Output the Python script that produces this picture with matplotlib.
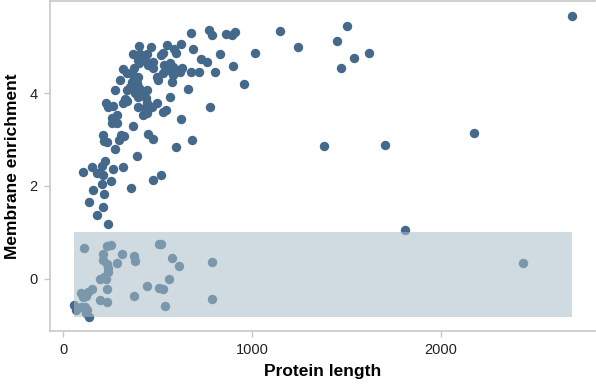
import matplotlib
matplotlib.use("Agg")
import matplotlib.pyplot as plt
import matplotlib.patches as patches

plt.rcParams['font.family'] = ['Liberation Sans', 'DejaVu Sans']

# protein length vs membrane enrichment
length = [
    677, 772, 788, 862, 894, 910, 1148, 1243, 1016, 831, 730, 762, 899, 804, 677, 720,
    958, 661, 778, 624, 683, 598, 519, 476, 688, 624, 550, 587, 598, 529, 519,
    1503, 1450, 1540, 1619, 1471, 1381, 1704, 2175, 2693, 1810,
    402, 466, 370, 407, 444, 397, 434, 476, 402, 450, 476, 534, 566, 582, 550, 603,
    630, 529, 497, 582, 619, 503, 577, 317, 339, 376, 370, 397, 365, 392, 354, 402,
    339, 381, 418, 397, 439, 444, 302, 275, 566, 529, 497, 471, 423, 444, 434, 397,
    328, 339, 228, 238, 265, 317, 333, 259, 286, 259, 286, 370, 212, 217, 233, 296,
    323, 307, 444, 545, 450, 476, 275, 392, 222, 106, 153, 180, 212, 206, 265, 317,
    254, 206, 360, 159, 217, 138, 212, 180, 238,
    111, 233, 254, 212, 212, 233, 238, 238, 312, 286, 376, 381, 508, 519, 577, 614,
    788, 561, 196, 217, 228, 233, 444, 508, 529, 153, 132, 122, 95, 106, 196, 233,
    376, 788, 540, 58, 69, 95, 116, 127, 122, 138, 2434,
]
enrichment = [
    5.29, 5.35, 5.25, 5.27, 5.25, 5.31, 5.33, 4.99, 4.86, 4.84, 4.73, 4.67, 4.58, 4.45, 4.45, 4.45,
    4.19, 4.09, 3.70, 3.44, 2.99, 2.84, 2.24, 2.13, 4.95, 5.05, 5.03, 4.95, 4.86, 4.86, 4.82,
    5.44, 5.12, 4.75, 4.86, 4.54, 2.86, 2.88, 3.14, 5.66, 1.05,
    5.01, 4.99, 4.84, 4.84, 4.84, 4.71, 4.71, 4.67, 4.65, 4.60, 4.54, 4.60, 4.65, 4.56, 4.49, 4.49,
    4.54, 4.43, 4.34, 4.39, 4.45, 4.28, 4.24, 4.52, 4.43, 4.54, 4.39, 4.34, 4.24, 4.22, 4.13, 4.11,
    4.06, 3.99, 4.02, 3.91, 3.89, 4.06, 4.28, 4.06, 3.91, 3.59, 3.79, 3.70, 3.53, 3.57, 3.67, 3.70,
    3.87, 3.83, 3.79, 3.70, 3.72, 3.79, 3.85, 3.46, 3.53, 3.35, 3.35, 3.29, 3.10, 2.97, 2.95, 2.99,
    3.08, 3.10, 3.78, 3.63, 3.12, 3.01, 2.80, 2.65, 2.54, 2.30, 2.41, 2.28, 2.24, 2.43, 2.37, 2.41,
    2.11, 2.04, 1.96, 1.91, 1.83, 1.66, 1.55, 1.38, 1.18,
    0.67, 0.71, 0.73, 0.54, 0.41, 0.32, 0.24, 0.15, 0.54, 0.34, 0.49, 0.39, 0.75, 0.75, 0.45, 0.28,
    0.37, 0.00, 0.00, 0.04, 0.00, -0.22, -0.15, -0.19, -0.22, -0.22, -0.28, -0.37, -0.30, -0.39, -0.45, -0.49,
    -0.37, -0.43, -0.58, -0.56, -0.67, -0.60, -0.60, -0.67, -0.73, -0.82, 0.34,
]

# shaded band (x0, x1, y0, y1)
band_x = [58, 2693]
band_y = [-0.82, 1.01]

fig = plt.figure(figsize=(5.96, 3.88), dpi=100)
ax = fig.add_axes([50 / 596, 57 / 388, 545 / 596, 330 / 388])

ax.scatter(length, enrichment, s=46, color='#44698b', linewidths=0, zorder=2)

rect = patches.Rectangle((band_x[0], band_y[0]), band_x[1] - band_x[0], band_y[1] - band_y[0],
                         facecolor='#a9bec7', alpha=0.55, linewidth=0, zorder=3)
ax.add_patch(rect)

ax.set_xlim(-69, 2815)
ax.set_ylim(-1.12, 5.98)
ax.set_xticks([0, 1000, 2000])
ax.set_yticks([0, 2, 4])

for s in ax.spines.values():
    s.set_color('#c8c8c8')
    s.set_linewidth(1.2)
ax.spines['right'].set_visible(False)
ax.tick_params(colors='#c8c8c8', labelcolor='#222222', labelsize=10.5, length=4, width=1, pad=5)

ax.set_xlabel('Protein length', fontsize=12.5, fontweight='bold', labelpad=5)
ax.set_ylabel('Membrane enrichment', fontsize=12.5, fontweight='bold', labelpad=7)

fig.savefig('out.png', dpi=100)
